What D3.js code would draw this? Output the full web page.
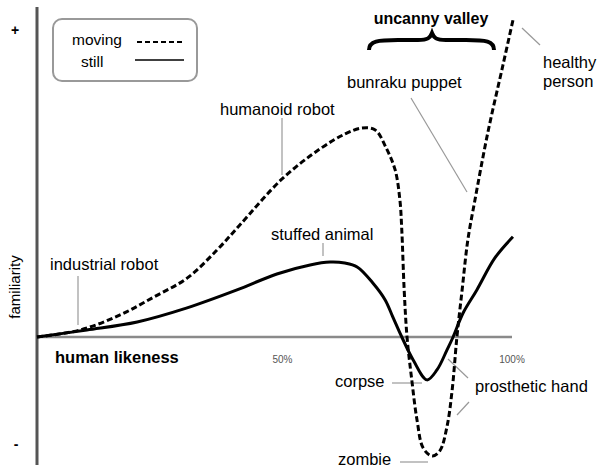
<!DOCTYPE html>
<html>
<head>
<meta charset="utf-8">
<script src="https://cdn.jsdelivr.net/npm/d3@7"></script>
<style>
  body { margin: 0; background: #fff; }
  svg { display: block; font-family: "Liberation Sans", Arial, sans-serif; }
  .lbl { font-size: 16.5px; fill: #000; }
  .lead { stroke: #999; stroke-width: 1.2; fill: none; }
</style>
</head>
<body>
<div id="chart"></div>
<script>
// human likeness (%) vs familiarity
var movingLikeness = [0, 9.1, 17.5, 24.6, 31.6, 37.9, 42.7, 51.6, 59.6, 64.8, 68.4, 71.2, 73.5, 75.4, 76.4, 76.8, 77.3, 77.9, 78.9, 80.0, 81.3, 83.2, 84.8, 86.3, 87.4, 88.4, 89.5, 90.7, 92.2, 94.9, 98.1, 100.2];
var movingFamiliarity = [0, 2.2, 6.9, 12.5, 18.4, 27.2, 35, 49.4, 58.8, 63.4, 65.3, 64.7, 59.1, 52.2, 42.8, 33.4, 14.7, 0, -13.4, -25.9, -34.7, -37.2, -35.6, -28.1, -16.6, 0, 14.7, 30.3, 42.8, 63.8, 85, 99];

var stillLikeness = [0, 10.5, 21.1, 31.6, 42.1, 50.5, 57.5, 61.7, 64.8, 67.4, 70.7, 73.3, 74.9, 76.8, 79.2, 82.1, 84.2, 86.3, 87.6, 89.7, 92.6, 96.4, 100.2];
var stillFamiliarity = [0, 2.2, 4.7, 9.1, 14.7, 19.7, 22.5, 23.4, 23.1, 21.9, 16.9, 11.6, 6.3, 0, -7.2, -13.4, -10.3, -4.1, 0, 7.5, 14.7, 24.7, 31.3];

var tickLabels = ["50%", "100%"];
var tickValues = [50, 100];

var annotations = ["industrial robot", "humanoid robot", "stuffed animal", "bunraku puppet", "corpse", "zombie", "prosthetic hand"];

var width = 598,
  height = 468;

var svg = d3
  .select("#chart")
  .append("svg")
  .attr("width", width)
  .attr("height", height);

var x = d3.scaleLinear().domain([0, 100]).range([37, 512]);
var y = d3.scaleLinear().domain([-40, 100]).range([465, 17]);

var line = d3
  .line()
  .x(function (d) { return x(d[0]); })
  .y(function (d) { return y(d[1]); })
  .curve(d3.curveCatmullRom.alpha(0.5));

var moving = d3.zip(movingLikeness, movingFamiliarity);
var still = d3.zip(stillLikeness, stillFamiliarity);

// leader lines
var leads = [
  [[78, 276], [78, 325]],
  [[282, 118], [282, 175]],
  [[323, 243], [323, 256]],
  [[411, 98], [467, 192]],
  [[522, 28], [540, 45]],
  [[392, 383], [422, 383]],
  [[400, 462], [428, 462]],
  [[448, 359], [468, 378]],
  [[469, 402], [457, 415]]
];
svg.selectAll(".lead")
  .data(leads)
  .join("line")
  .attr("class", "lead")
  .attr("x1", function (d) { return d[0][0]; })
  .attr("y1", function (d) { return d[0][1]; })
  .attr("x2", function (d) { return d[1][0]; })
  .attr("y2", function (d) { return d[1][1]; });

// axes
svg.append("line")
  .attr("x1", x(0)).attr("x2", x(100))
  .attr("y1", y(0)).attr("y2", y(0))
  .attr("stroke", "#8a8a8a").attr("stroke-width", 2.5);
svg.append("line")
  .attr("x1", x(0)).attr("x2", x(0))
  .attr("y1", 7).attr("y2", 465)
  .attr("stroke", "#555").attr("stroke-width", 3);

svg.selectAll(".tick")
  .data(tickValues)
  .join("text")
  .attr("class", "tick")
  .attr("x", function (d, i) { return x(d) + (i == 0 ? 8 : 0); })
  .attr("y", 363)
  .attr("text-anchor", "middle")
  .attr("font-size", 10)
  .attr("fill", "#555")
  .text(function (d, i) { return tickLabels[i]; });

svg.append("text")
  .attr("x", 55).attr("y", 363)
  .attr("font-size", 16.5).attr("font-weight", "bold")
  .text("human likeness");

svg.append("text")
  .attr("transform", "translate(20,287) rotate(-90)")
  .attr("text-anchor", "middle")
  .attr("font-size", 15)
  .text("familiarity");

svg.append("text").attr("x", 15).attr("y", 35)
  .attr("text-anchor", "middle").attr("font-size", 14).attr("font-weight", "bold").text("+");
svg.append("text").attr("x", 16).attr("y", 449)
  .attr("text-anchor", "middle").attr("font-size", 14).attr("font-weight", "bold").text("-");

// curves
svg.append("path")
  .datum(still)
  .attr("d", line)
  .attr("fill", "none")
  .attr("stroke", "#000")
  .attr("stroke-width", 3);
svg.append("path")
  .datum(moving)
  .attr("d", line)
  .attr("fill", "none")
  .attr("stroke", "#000")
  .attr("stroke-width", 3)
  .attr("stroke-dasharray", "6,3");

// labels
var labelPos = {
  "industrial robot": [50, 270],
  "humanoid robot": [220, 115],
  "stuffed animal": [271, 240],
  "bunraku puppet": [347, 88],
  "corpse": [335, 387],
  "zombie": [338, 465],
  "prosthetic hand": [475, 392]
};
svg.selectAll(".lbl")
  .data(annotations)
  .join("text")
  .attr("class", "lbl")
  .attr("x", function (d) { return labelPos[d][0]; })
  .attr("y", function (d) { return labelPos[d][1]; })
  .text(function (d) { return d; });

svg.append("text").attr("class", "lbl").attr("x", 543).attr("y", 68).text("healthy");
svg.append("text").attr("class", "lbl").attr("x", 543).attr("y", 87).text("person");

// uncanny valley + brace
svg.append("text")
  .attr("x", 431).attr("y", 24)
  .attr("text-anchor", "middle")
  .attr("font-size", 16).attr("font-weight", "bold")
  .text("uncanny valley");
svg.append("path")
  .attr("d", "M369,50 C369,41 378,40 398,40 L418,40 C428,40 430,38 432,33 C434,38 436,40 446,40 L466,40 C486,40 494,41 494,50")
  .attr("fill", "none").attr("stroke", "#000").attr("stroke-width", 4);

// legend
var lg = svg.append("g");
lg.append("rect")
  .attr("x", 53).attr("y", 19).attr("width", 144).attr("height", 62)
  .attr("rx", 9)
  .attr("fill", "#fff").attr("stroke", "#999").attr("stroke-width", 2);
lg.append("text").attr("x", 72).attr("y", 45).attr("font-size", 15.5).text("moving");
lg.append("text").attr("x", 81).attr("y", 67).attr("font-size", 15.5).text("still");
lg.append("line").attr("x1", 137).attr("x2", 184).attr("y1", 42).attr("y2", 42)
  .attr("stroke", "#000").attr("stroke-width", 2).attr("stroke-dasharray", "5,3");
lg.append("line").attr("x1", 135).attr("x2", 184).attr("y1", 60).attr("y2", 60)
  .attr("stroke", "#000").attr("stroke-width", 1.3);
</script>
</body>
</html>
